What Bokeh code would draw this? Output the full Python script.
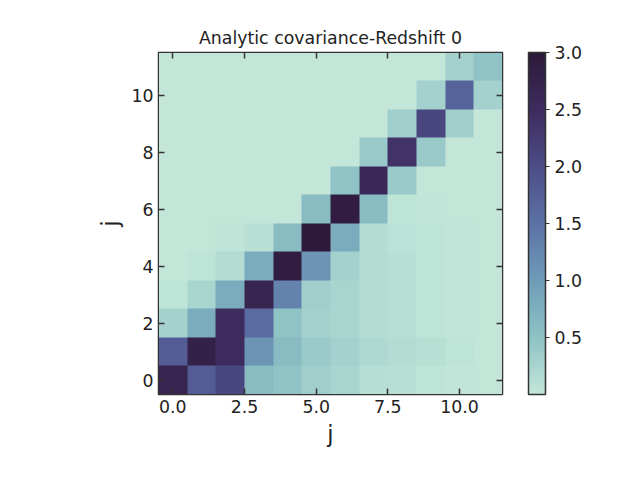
import numpy as np
from bokeh.plotting import figure
from bokeh.models import LinearColorMapper, ColorBar, FixedTicker, LinearAxis, Label, PrintfTickFormatter
from bokeh.embed import file_html
from bokeh.resources import INLINE

# covariance in units of 1e-17, rows = j (y), columns = j (x)
row0 = [2.7, 1.8, 2.1, 0.6, 0.5, 0.35, 0.25, 0.12, 0.10, 0.05, 0.02, 0.0]
row1 = [1.8, 2.8, 2.5, 1.1, 0.6, 0.40, 0.30, 0.20, 0.15, 0.10, 0.05, 0.0]
row2 = [0.3, 0.8, 2.5, 1.6, 0.5, 0.30, 0.25, 0.15, 0.10, 0.05, 0.02, 0.0]
row3 = [0.05, 0.25, 0.8, 2.7, 1.3, 0.35, 0.25, 0.15, 0.10, 0.05, 0.02, 0.0]
row4 = [0.0, 0.05, 0.15, 0.8, 2.9, 1.1, 0.30, 0.15, 0.10, 0.05, 0.02, 0.0]
row5 = [0.0, 0.0, 0.03, 0.1, 0.6, 3.0, 0.8, 0.15, 0.08, 0.05, 0.02, 0.0]
row6 = [0.0, 0.0, 0.0, 0.0, 0.0, 0.6, 2.9, 0.6, 0.05, 0.02, 0.0, 0.0]
row7 = [0.0, 0.0, 0.0, 0.0, 0.0, 0.0, 0.5, 2.6, 0.4, 0.0, 0.0, 0.0]
row8 = [0.0, 0.0, 0.0, 0.0, 0.0, 0.0, 0.0, 0.4, 2.4, 0.4, 0.0, 0.0]
row9 = [0.0, 0.0, 0.0, 0.0, 0.0, 0.0, 0.0, 0.0, 0.35, 2.1, 0.35, 0.0]
row10 = [0.0, 0.0, 0.0, 0.0, 0.0, 0.0, 0.0, 0.0, 0.0, 0.3, 1.7, 0.3]
row11 = [0.0, 0.0, 0.0, 0.0, 0.0, 0.0, 0.0, 0.0, 0.0, 0.0, 0.3, 0.5]
rows = [row0, row1, row2, row3, row4, row5, row6, row7, row8, row9, row10, row11]

cbar_ticks = [0.5, 1.0, 1.5, 2.0, 2.5, 3.0]
x_ticks = [0.0, 2.5, 5.0, 7.5, 10.0]
y_ticks = [0, 2, 4, 6, 8, 10]

# colour map: light mint -> dark purple
stops = ["#c3e6d9", "#8ec3c5", "#6e9cb8", "#5c72a6", "#4d4d88", "#3e2c5f", "#2d1a3a"]
pos = np.linspace(0, 1, len(stops))
def hex2rgb(h):
    return [int(h[i:i + 2], 16) for i in (1, 3, 5)]
rgb = np.array([hex2rgb(s) for s in stops])
t = np.linspace(0, 1, 256)
palette = ["#%02x%02x%02x" % tuple(int(round(np.interp(v, pos, rgb[:, k]))) for k in range(3)) for v in t]

mapper = LinearColorMapper(palette=palette, low=0.0, high=3.0)

p = figure(frame_width=344, frame_height=342, min_border_left=158, min_border_top=52,
           min_border_bottom=78, min_border_right=80,
           x_range=(-0.5, 11.5), y_range=(-0.5, 11.5),
           output_backend="svg", toolbar_location=None, title="Analytic covariance-Redshift 0")
p.image(image=[np.array(rows)], x=-0.5, y=-0.5, dw=12, dh=12, color_mapper=mapper)

p.title.text_font = "DejaVu Sans"
p.title.text_font_size = "13pt"
p.title.text_font_style = "normal"
p.title.align = "center"
p.title.text_color = "#222222"
p.grid.visible = False
p.outline_line_color = "#333333"
p.outline_line_width = 1.5

bottom = p.below[0]
left = p.left[0]
bottom.ticker = FixedTicker(ticks=x_ticks)
left.ticker = FixedTicker(ticks=y_ticks)
bottom.formatter = PrintfTickFormatter(format="%.1f")
bottom.axis_label = "j"
left.axis_label = "j"
for ax in (bottom, left):
    ax.axis_label_text_font = "DejaVu Sans"
    ax.axis_label_text_font_size = "17pt"
    ax.axis_label_text_font_style = "normal"
    ax.axis_label_text_color = "#222222"
    ax.major_label_text_font_size = "13pt"
top = LinearAxis(ticker=FixedTicker(ticks=x_ticks), major_label_text_color=None)
right = LinearAxis(ticker=FixedTicker(ticks=y_ticks), major_label_text_color=None)
p.add_layout(top, "above")
p.add_layout(right, "right")
for ax in (bottom, left, top, right):
    ax.major_label_text_font = "DejaVu Sans"
    ax.major_tick_in = 6
    ax.major_tick_out = 0
    ax.minor_tick_line_color = None
    ax.axis_line_color = "#333333"
    ax.major_tick_line_color = "#333333"
    ax.major_tick_line_width = 1.5
bottom.major_label_text_color = "#222222"
left.major_label_text_color = "#222222"
left.major_label_orientation = 0
top.major_label_standoff = 0
right.major_label_standoff = 0

cb = ColorBar(color_mapper=mapper, ticker=FixedTicker(ticks=cbar_ticks), width=17, height=342,
              formatter=PrintfTickFormatter(format="%.1f"),
              padding=0, margin=0, bar_line_color="#333333", bar_line_width=1.5,
              major_tick_in=0, major_tick_out=4, major_tick_line_color="#333333",
              minor_tick_line_color=None, major_label_text_font="DejaVu Sans",
              major_label_text_font_size="13pt", major_label_text_color="#222222",
              location=(26, 0), background_fill_alpha=0)
p.add_layout(cb, "right")

p.add_layout(Label(x=11.0, y=12.5, text="1e\u221217", text_baseline="bottom",
                   text_font="DejaVu Sans", text_font_size="13pt", text_color="#222222"))

open("out.html", "w").write(file_html(p, INLINE))
